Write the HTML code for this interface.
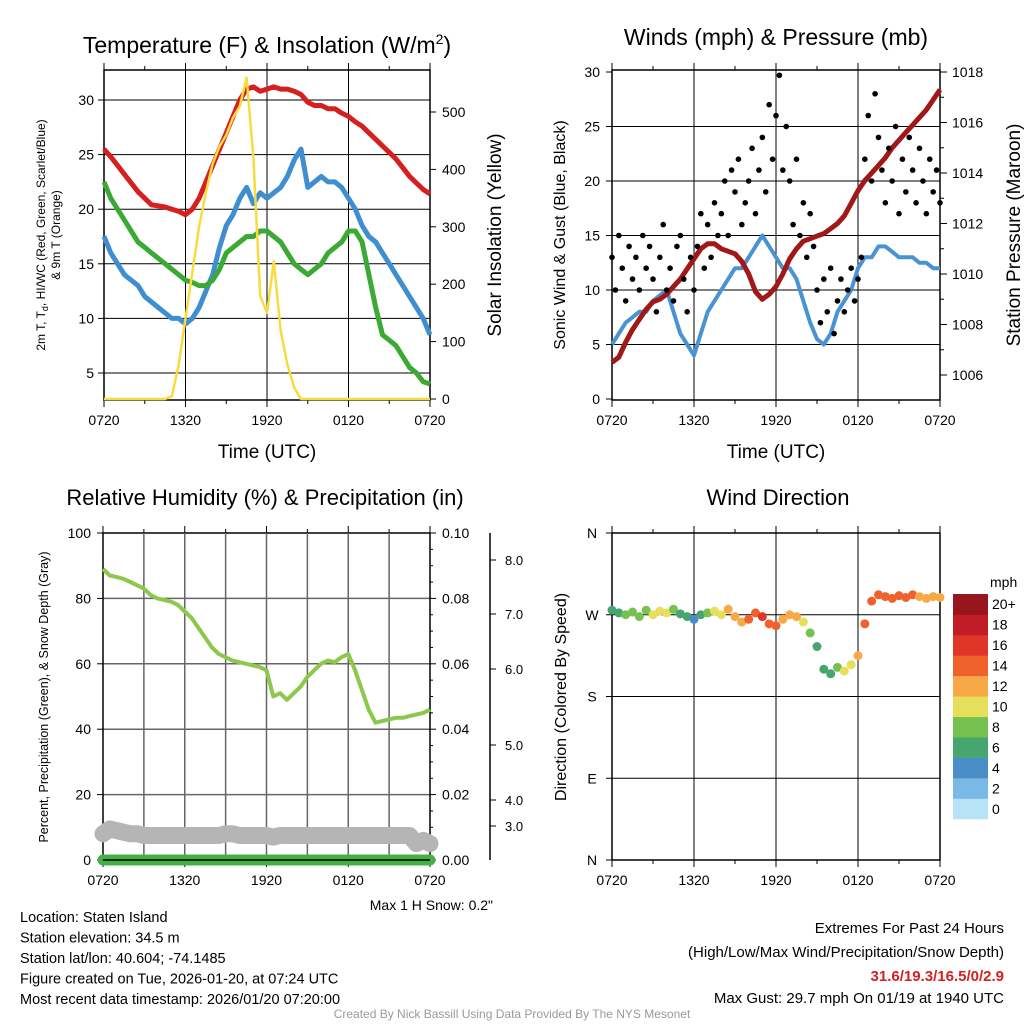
<!DOCTYPE html>
<html><head><meta charset="utf-8">
<style>
html,body{margin:0;padding:0;background:#fff;}
svg{display:block;font-family:"Liberation Sans",sans-serif;}
</style></head>
<body>
<svg id="s" width="1024" height="1024" viewBox="0 0 1024 1024" xmlns="http://www.w3.org/2000/svg">
<rect width="1024" height="1024" fill="#fff"/>
</svg>
<script>
// ---- data (half-hourly from 0720 UTC unless noted) ----
const timeLabels = ["0720","1320","1920","0120","0720"];
const tempRed = [25.5,24.8,24,23.2,22.4,21.6,21,20.4,20.3,20.2,20,19.8,19.5,20,21,22.5,24,25.5,27,28.5,30,31,31.2,30.8,31,31.2,31,31,30.8,30.5,29.8,29.5,29.5,29.2,29.2,28.8,28.5,28,27.6,27,26.4,25.8,25.2,24.6,23.8,23,22.4,21.8,21.4];
const tempBlue = [17.5,16,15,14,13.5,13,12,11.5,11,10.5,10,10,9.5,10,11,12.5,14,16.5,18.5,19.5,21,22,20.5,21.5,21,21.5,22,23,24.5,25.5,22,22.5,23,22.5,22.5,22,21,20,18.5,17.5,17,16,15,14,13,12,11,10,8.5];
const tempGreen = [22.5,21,20,19,18,17,16.5,16,15.5,15,14.5,14,13.5,13.3,13,13,13.5,14.5,16,16.5,17,17.5,17.5,18,18,17.5,17,16,15,14.5,14,14.5,15,16,16.5,17,18,18,17,14,11,8.5,8,7.5,6.5,5.5,5,4.2,4];
const insolation = [0,0,0,0,0,0,0,0,0,0,5,60,140,220,300,360,410,440,460,490,510,560,420,180,150,240,120,60,20,0,0,0,0,0,0,0,0,0,0,0,0,0,0,0,0,0,0,0,0];
const windSpeed = [5,6,7,7.5,8,8,9,9.5,10,8,6,5,4,6,8,9,10,11,12,12,13,14,15,14,13,12,12,11,9,7,5.5,5,6,8,9,10,12,13,13,14,14,13.5,13,13,13,12.5,12.5,12,12];
// gusts every 15 minutes
const gusts = [13,10,15,12,9,14,11,13,10,15,12,14, 11,8,13,16,10,12,9,14,15,11,8,13, 10,14,17,12,16,13,18,15, 17,20,15,21,19,22,16,18,20,23,17,21, 24,19,27,22,26,29.7,21,25, 20,16,22,15,18,13,17,14, 10,7,11,8,12,6,9,11, 8,10,12,9,11,13, 22,26,20,28,24,21, 18,23,20,25,17,22,19,24,21,18,23,20,17,22,19,21,18];
const pressure = [1006.5,1006.7,1007.3,1007.8,1008.2,1008.6,1008.9,1009,1009.2,1009.5,1009.8,1010.2,1010.6,1011,1011.2,1011.2,1011,1010.9,1010.8,1010.5,1010,1009.3,1009,1009.2,1009.5,1010,1010.6,1011,1011.3,1011.4,1011.5,1011.6,1011.8,1012,1012.3,1012.8,1013.3,1013.7,1014,1014.3,1014.6,1015,1015.3,1015.6,1015.9,1016.2,1016.5,1016.9,1017.3];
const rh = [89,87,86.5,86,85,84,83,81,80,79.5,79,78,76,74,71,68,65,63,62,61,60.5,60,59.5,59,58,50,51,49,51,53,56,58,60,61,60.5,62,63,58,52,46,42,42.5,43,43.5,43.5,44,44.5,45,46];
const snowDepth = [8,9.5,9,8.5,8,8,7.5,7.5,7.5,7.5,7.5,7.5,7.5,7.5,7.5,7.5,7.5,7.5,8,8,7.5,7.5,7.5,7.5,7.5,7,7.5,7.5,7.5,7.5,7.5,7.5,7.5,7.5,7.5,7.5,7.5,7.5,7.5,7.5,7.5,7.5,7.5,7.5,7.5,7.5,5,6,5];
const precip = [0,0,0,0,0,0,0,0,0,0,0,0,0,0,0,0,0,0,0,0,0,0,0,0,0,0,0,0,0,0,0,0,0,0,0,0,0,0,0,0,0,0,0,0,0,0,0,0,0];
const direction = [275,272,270,273,268,275,270,274,272,276,271,268,265,270,272,274,270,276,268,262,265,272,268,260,258,265,270,268,262,250,235,210,205,212,208,215,225,260,285,292,290,288,291,289,292,290,288,290,289];
const speedBins = ["0","2","4","6","8","10","12","14","16","18","20+"];
const speedColors = ["#b8e3f7","#7ab9e5","#4a8ec8","#47a66f","#77c150","#e5df5c","#f7a948","#ef622b","#e03529","#c01d26","#97151c"];

const NS="http://www.w3.org/2000/svg";
const svg=document.getElementById('s');
function el(tag,attrs,parent){const e=document.createElementNS(NS,tag);for(const k in attrs)e.setAttribute(k,attrs[k]);(parent||svg).appendChild(e);return e;}
function txt(x,y,s,size,anchor,parent,extra){const t=el('text',Object.assign({x:x,y:y,'font-size':size,'text-anchor':anchor||'middle',fill:'#000'},extra||{}),parent);t.textContent=s;return t;}
function lin(v0,v1,p0,p1){return v=>p0+(v-v0)*(p1-p0)/(v1-v0);}
function pathFrom(arr,fx,fy){return arr.map((v,i)=>(i?'L':'M')+fx(i).toFixed(1)+' '+fy(v).toFixed(1)).join(' ');}

function frame(g,x0,y0,x1,y1,every3){
  el('rect',{x:x0,y:y0,width:x1-x0,height:y1-y0,fill:'none',stroke:'#000','stroke-width':1.5},g);
  const sx=lin(0,24,x0,x1);
  for(let h=0;h<=24;h+=3){
    const x=sx(h);
    if(h>0&&h<24&&(h%6===0||every3)) el('line',{x1:x,y1:y0,x2:x,y2:y1,stroke:every3?'#666':'#000','stroke-width':every3?1.5:1},g);
    el('line',{x1:x,y1:y1,x2:x,y2:y1+(h%6===0?7:4),stroke:'#000','stroke-width':1},g);
    el('line',{x1:x,y1:y0,x2:x,y2:y0-(h%6===0?7:4),stroke:'#000','stroke-width':1},g);
  }
  timeLabels.forEach((l,i)=>txt(sx(i*6),y1+25,l,14,'middle',g));
  return sx;
}
function hgrid(g,x0,x1,ys,col){ys.forEach(y=>el('line',{x1:x0,y1:y,x2:x1,y2:y,stroke:col||'#000','stroke-width':col?1.5:1},g));}

// ===== Panel 1: Temperature =====
(function(){
  const g=el('g',{});
  
  
  const x0=104,y0=70,x1=430,y1=400;
  const sy=lin(5,30,373,100), sr=lin(0,500,399,112);
  hgrid(g,x0,x1,[5,10,15,20,25,30].map(sy));
  const sx=frame(g,x0,y0,x1,y1,false);
  const fx=i=>sx(i*0.5);
  [5,10,15,20,25,30].forEach(v=>{txt(x0-10,sy(v)+5,String(v),14,'end',g);el('line',{x1:x0,y1:sy(v),x2:x0-6,y2:sy(v),stroke:'#000'},g);});
  [0,100,200,300,400,500].forEach(v=>{txt(x1+12,sr(v)+5,String(v),14,'start',g);el('line',{x1:x1,y1:sr(v),x2:x1+6,y2:sr(v),stroke:'#000'},g);});
  const pb=el('path',{d:pathFrom(tempBlue,fx,sy),fill:'none',stroke:'#3f8fd0','stroke-width':5,'stroke-linejoin':'round'},g);
  
  const pg=el('path',{d:pathFrom(tempGreen,fx,sy),fill:'none',stroke:'#3aaa35','stroke-width':5,'stroke-linejoin':'round'},g);
  
  const pr=el('path',{d:pathFrom(tempRed,fx,sy),fill:'none',stroke:'#d62020','stroke-width':5,'stroke-linejoin':'round'},g);
  
  const py=el('path',{d:pathFrom(insolation,fx,sr),fill:'none',stroke:'#f7dc3f','stroke-width':2.5,'stroke-linejoin':'round'},g);
  
  const t=el('text',{x:267,y:53,'font-size':23,'text-anchor':'middle'},g);
  t.innerHTML='Temperature (F) &amp; Insolation (W/m<tspan dy="-9" font-size="14">2</tspan><tspan dy="9">)</tspan>';
  
  txt(267,458,'Time (UTC)',19,'middle',g);
  const yl=el('text',{transform:'translate(45,235) rotate(-90)','font-size':12,'text-anchor':'middle'},g);
  yl.innerHTML='2m T, T<tspan dy="3" font-size="9">d</tspan><tspan dy="-3">, HI/WC (Red, Green, Scarlet/Blue)</tspan>';
  txt(0,0,'& 9m T (Orange)',12,'middle',g,{transform:'translate(60,235) rotate(-90)'});
  txt(0,0,'Solar Insolation (Yellow)',19,'middle',g,{transform:'translate(501,235) rotate(-90)'});
})();

// ===== Panel 2: Winds =====
(function(){
  const g=el('g',{});
  
  
  const x0=612,y0=70,x1=940,y1=400;
  const sy=lin(0,30,399,72), sp=lin(1006,1018,375,72);
  hgrid(g,x0,x1,[5,10,15,20,25].map(sy));
  const sx=frame(g,x0,y0,x1,y1,false);
  [0,5,10,15,20,25,30].forEach(v=>{txt(x0-12,sy(v)+5,String(v),14,'end',g);el('line',{x1:x0,y1:sy(v),x2:x0-6,y2:sy(v),stroke:'#000'},g);});
  for(let p=1006;p<=1018;p+=1){el('line',{x1:x1,y1:sp(p),x2:x1+(p%2===0?7:4),y2:sp(p),stroke:'#000'},g);if(p%2===0)txt(x1+12,sp(p)+5,String(p),14,'start',g);}
  const pw=el('path',{d:pathFrom(windSpeed,i=>sx(i*0.5),sy),fill:'none',stroke:'#4a93d3','stroke-width':4,'stroke-linejoin':'round'},g);
  
  const pp=el('path',{d:pathFrom(pressure,i=>sx(i*0.5),sp),fill:'none',stroke:'#a01818','stroke-width':5,'stroke-linejoin':'round'},g);
  
  gusts.forEach((v,i)=>{
    const c=el('circle',{cx:sx(i*0.25),cy:sy(v),r:2.8,fill:'#000'},g);
    
    
  });
  txt(776,45,'Winds (mph) & Pressure (mb)',23,'middle',g);
  txt(776,458,'Time (UTC)',19,'middle',g);
  txt(0,0,'Sonic Wind & Gust (Blue, Black)',16,'middle',g,{transform:'translate(565,235) rotate(-90)'});
  txt(0,0,'Station Pressure (Maroon)',19,'middle',g,{transform:'translate(1020,235) rotate(-90)'});
})();

// ===== Panel 3: RH =====
(function(){
  const g=el('g',{});
  
  
  const x0=103,y0=533,x1=430,y1=860;
  const sy=lin(0,100,860,533), sr=lin(0,0.1,860,533);
  hgrid(g,x0,x1,[20,40,60,80].map(sy),'#666');
  const sx=frame(g,x0,y0,x1,y1,true);
  [0,20,40,60,80,100].forEach(v=>{txt(x0-12,sy(v)+5,String(v),14,'end',g);el('line',{x1:x0,y1:sy(v),x2:x0-6,y2:sy(v),stroke:'#000'},g);});
  for(let k=0;k<=20;k++){const v=k*0.005;el('line',{x1:x1,y1:sr(v),x2:x1+(k%4===0?6:3),y2:sr(v),stroke:'#000'},g);}
  [0,0.02,0.04,0.06,0.08,0.1].forEach(v=>{txt(x1+12,sr(v)+5,v.toFixed(2),14,'start',g);});
  el('line',{x1:490,y1:533,x2:490,y2:860,stroke:'#000','stroke-width':1.5},g);
  [["8.0",560],["7.0",614],["6.0",669],["5.0",745],["4.0",800],["3.0",826]].forEach(a=>{txt(505,a[1]+5,a[0],13,'start',g);el('line',{x1:490,y1:a[1],x2:496,y2:a[1],stroke:'#000'},g);});
  const fx=i=>sx(i*0.5);
  const ps=el('path',{d:pathFrom(snowDepth,fx,sy),fill:'none',stroke:'#b5b5b5','stroke-width':17,'stroke-linejoin':'round','stroke-linecap':'round'},g);
  
  const pc=el('path',{d:pathFrom(precip,fx,sr),fill:'none',stroke:'#45b045','stroke-width':11,'stroke-linecap':'round'},g);
  
  el('line',{x1:x0,y1:y1,x2:x1,y2:y1,stroke:'#000','stroke-width':1.5},g);
  const ph=el('path',{d:pathFrom(rh,fx,sy),fill:'none',stroke:'#8cc84b','stroke-width':4,'stroke-linejoin':'round'},g);
  
  txt(265,505,'Relative Humidity (%) & Precipitation (in)',22,'middle',g);
  txt(0,0,'Percent, Precipitation (Green), & Snow Depth (Gray)',12.5,'middle',g,{transform:'translate(48,697) rotate(-90)'});
  txt(493,910,'Max 1 H Snow: 0.2"',14,'end',g);
})();

// ===== Panel 4: Wind direction =====
(function(){
  const g=el('g',{});
  
  
  const x0=612,y0=533,x1=940,y1=860;
  const sy=lin(0,360,860,533);
  hgrid(g,x0,x1,[90,180,270].map(sy));
  const sx=frame(g,x0,y0,x1,y1,false);
  [["N",0],["E",90],["S",180],["W",270],["N",360]].forEach(a=>{txt(x0-20,sy(a[1])+5,a[0],14,'middle',g);el('line',{x1:x0,y1:sy(a[1]),x2:x0-6,y2:sy(a[1]),stroke:'#000'},g);});
  direction.forEach((d,i)=>{
    const b=Math.min(10,Math.round(windSpeed[i]/2));
    const c=el('circle',{cx:sx(i*0.5),cy:sy(d),r:4.5,fill:speedColors[b]},g);
    
    
  });
  txt(778,505,'Wind Direction',22,'middle',g);
  txt(0,0,'Direction (Colored By Speed)',16,'middle',g,{transform:'translate(566,697) rotate(-90)'});
  const leg=el('g',{},g);
  
  
  const h=225/11;
  speedColors.forEach((c,i)=>{
    const y=594+(10-i)*h;
    el('rect',{x:953,y:y,width:35,height:h+0.3,fill:c},leg);
    txt(992,y+h/2+5,speedBins[i],14,'start',leg);
  });
  txt(990,587,'mph',14,'start',leg);
})();

// ===== Footer text =====
(function(){
  const g=el('g',{});
  
  
  ["Location: Staten Island","Station elevation: 34.5 m","Station lat/lon: 40.604; -74.1485","Figure created on Tue, 2026-01-20, at 07:24 UTC","Most recent data timestamp: 2026/01/20 07:20:00"].forEach((s,i)=>txt(20,922+i*20.5,s,14.5,'start',g));
  const r=el('g',{});
  
  
  txt(1004,933,'Extremes For Past 24 Hours',15,'end',r);
  txt(1004,957,'(High/Low/Max Wind/Precipitation/Snow Depth)',15,'end',r);
  txt(1004,981,'31.6/19.3/16.5/0/2.9',15,'end',r,{fill:'#d42020','font-weight':'bold'});
  txt(1004,1003,'Max Gust: 29.7 mph On 01/19 at 1940 UTC',15,'end',r);
  txt(512,1018,'Created By Nick Bassill Using Data Provided By The NYS Mesonet',12,'middle',svg,{fill:'#999'});
})();
</script>
</body></html>
